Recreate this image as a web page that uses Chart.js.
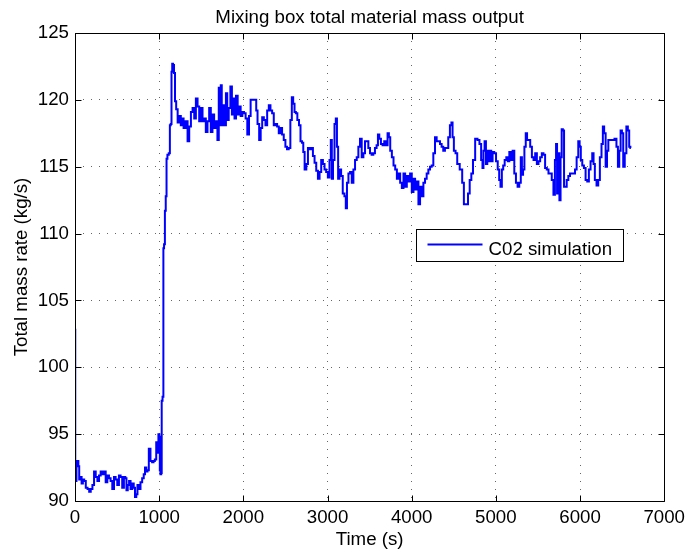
<!DOCTYPE html>
<html><head><meta charset="utf-8">
<script src="https://cdn.jsdelivr.net/npm/chart.js@4/dist/chart.umd.min.js"></script>
<style>html,body{margin:0;padding:0;background:#fff;}canvas{display:block;}</style>
</head><body>
<canvas id="c" width="691" height="555"></canvas>
<script>
const chartTitle = 'Mixing box total material mass output';
const xAxisLabel = 'Time (s)';
const yAxisLabel = 'Total mass rate (kg/s)';
const seriesLabel = 'C02 simulation';
const xTickValues = [0, 1000, 2000, 3000, 4000, 5000, 6000, 7000];
const yTickValues = [90, 95, 100, 105, 110, 115, 120, 125];

const timeS = [
0,6,15,20,35,45,55,70,87,100,118,138,160,177,197,217,236,256,276,295,315,335,355,374,394,413,433,453,473,492,512,532,551,571,591,605,618,635,650,670,690,705,721,735,749,768,788,808,825,839,855,867,887,906,926,940,957,973,985,997,1005,1010,1020,1028,1032,1048,1052,1064,1072,1084,1091,1105,1123,1131,1143,1150,1160,1170,1182,1194,
1210,1229,1249,1265,1280,1300,1328,1347,1367,1387,1407,1426,1446,1466,1485,1505,1525,1544,1564,1584,1604,1623,1643,1663,1682,1702,1714,1726,1738,1749,1769,1785,1801,1816,1836,1856,1872,1887,1903,1923,1942,1958,1978,1998,2017,2037,2057,
2077,2096,2147,2159,2178,2198,2214,2234,2253,2273,2293,2312,2332,2352,2371,2391,2411,2431,2450,2470,2490,2509,2529,2549,2568,2584,2600,2616,2632,2651,2671,2687,2706,2718,2738,2758,2777,2797,2817,2836,2856,2876,2896,2915,2935,2955,2974,2994,3014,3033,3045,3057,3073,3093,3104,3120,3132,3152,3171,
3191,3211,3223,3239,3258,3278,3298,3317,3337,3357,3376,3396,3416,3436,3455,3475,3495,3514,3534,3554,3573,3593,3605,3625,3644,3664,3684,3704,3723,3735,3755,3774,3794,3814,3834,3853,3873,3893,3912,3932,3952,3971,3991,4011,4031,4050,4070,4090,4109,4129,4149,4168,4188,4208,4228,4247,4267,4287,4306,4326,4346,4365,4385,4405,4425,4444,4464,4480,4491,4511,4531,4551,
4590,4610,4630,4661,4677,4701,4716,4740,4768,4795,4815,4835,4847,4858,4874,4890,4906,4921,4937,4953,4969,4992,5012,5032,5047,5063,5079,5095,5114,5134,5150,5170,5189,5209,5229,5248,5268,5288,5304,5315,5331,5347,5363,5378,5398,5418,5438,5457,5477,5497,5516,5536,5556,5575,5595,5615,5635,5654,5674,5694,5709,5721,5733,5749,5761,5776,5788,5804,5816,5832,5851,5871,5891,5910,5930,5950,5969,5989,6001,6017,6036,6056,6076,6095,6115,6135,6155,6166,6186,6206,6226,6245,6265,6277,6296,6312,6328,6344,6363,6395,6423,6442,6458,6474,6490,6505,6521,6541,6560,6576,6592,6604
];

const massRate = [
102.8,91.5,91.5,93.0,93.0,92.6,91.6,91.8,91.3,91.6,91.5,91.0,90.9,90.7,90.9,91.2,92.2,91.8,91.5,91.9,92.2,92.0,92.2,91.4,91.9,91.7,91.5,90.9,91.8,91.6,91.2,91.9,91.8,91.0,91.8,91.7,90.8,91.2,91.5,90.9,91.3,91.0,90.3,90.5,91.2,90.9,91.4,91.7,92.0,92.5,92.2,92.3,93.9,93.0,92.9,93.0,93.1,94.4,93.6,95.0,94.8,92.3,92.0,92.1,97.5,97.8,108.9,109.2,111.7,112.8,115.6,115.9,116.0,118.1,118.2,122.1,122.7,122.6,122.0,119.9,
119.3,118.3,118.8,118.1,118.6,117.9,118.4,116.9,118.0,119.1,119.4,118.6,120.1,119.5,118.4,119.4,118.4,118.6,117.6,118.4,119.4,117.6,118.9,117.9,118.4,117.0,120.9,118.1,121.1,118.1,119.6,118.1,120.5,118.5,119.4,121.0,118.9,120.1,118.6,120.3,118.9,119.5,118.8,119.1,119.0,118.6,117.4,
118.8,120.0,120.0,119.2,118.2,117.0,117.9,118.7,118.5,118.1,119.2,119.6,119.2,119.0,118.1,118.2,118.0,117.5,117.9,117.4,117.0,116.5,116.3,116.4,118.5,120.2,119.7,119.1,119.0,118.5,118.1,116.9,116.8,116.1,114.8,115.2,116.4,116.3,116.4,115.8,115.3,114.7,114.1,114.6,115.5,115.2,114.8,114.6,114.2,115.5,117.0,114.1,115.5,118.2,118.6,116.5,114.1,114.8,114.3,
113.0,112.8,111.9,113.8,114.5,114.6,113.8,114.8,115.5,115.7,116.5,117.1,115.7,116.0,116.9,116.9,116.4,116.0,115.9,116.0,116.4,116.6,117.4,117.1,116.7,116.6,116.9,116.6,117.5,117.2,116.2,115.7,115.1,114.8,114.1,114.5,113.8,113.4,114.5,113.5,114.3,113.9,114.5,113.1,114.1,113.3,113.9,112.2,113.5,112.8,113.8,114.1,114.5,114.8,115.0,115.1,116.0,117.2,116.9,116.9,116.7,116.5,116.2,116.4,116.4,117.2,118.1,118.3,117.2,116.2,116.0,115.2,
114.8,113.8,112.2,112.2,113.0,114.0,114.5,115.5,117.1,117.0,116.7,115.5,114.9,116.2,116.9,115.2,116.2,115.4,116.2,115.4,116.1,116.0,115.4,114.8,114.0,113.5,114.8,115.1,115.5,115.7,115.4,116.1,115.5,116.2,114.5,113.8,113.5,113.8,115.7,114.4,114.8,116.5,117.5,117.0,117.0,116.5,115.7,115.5,116.0,115.2,115.4,115.7,116.0,115.9,114.9,114.8,114.5,114.5,114.0,112.9,115.5,116.7,113.0,116.0,112.5,115.7,117.8,117.7,113.5,113.5,114.0,114.3,114.5,114.5,114.5,114.8,115.7,116.9,116.5,115.5,115.1,114.9,114.0,113.9,114.8,115.4,116.0,115.2,114.0,113.6,114.0,115.7,116.7,118.0,117.5,115.0,116.2,117.0,117.0,117.0,117.1,116.5,115.0,116.2,117.7,117.5,115.0,116.0,118.0,117.7,116.5,116.4
];

const FONT = "'Liberation Sans', Arial, Helvetica, sans-serif";
const FS = 18.7;
const points = timeS.map((t, i) => ({ x: t, y: massRate[i] }));

const decor = {
  id: 'decor',
  afterDraw(chart) {
    const ctx = chart.ctx, a = chart.chartArea;
    const xs = chart.scales.x, ys = chart.scales.y;
    ctx.save();
    ctx.strokeStyle = '#000';
    ctx.lineWidth = 1;
    ctx.setLineDash([]);
    ctx.beginPath();
    const L = Math.round(a.left) + 0.5, R = Math.round(a.right) + 0.5;
    const T = Math.round(a.top) + 0.5, B = Math.round(a.bottom) + 0.5;
    ctx.rect(L, T, R - L, B - T);
    const tl = 6;
    xTickValues.forEach(v => {
      const px = Math.round(xs.getPixelForValue(v)) + 0.5;
      ctx.moveTo(px, B); ctx.lineTo(px, B - tl);
      ctx.moveTo(px, T); ctx.lineTo(px, T + tl);
    });
    yTickValues.forEach(v => {
      const py = Math.round(ys.getPixelForValue(v)) + 0.5;
      ctx.moveTo(L, py); ctx.lineTo(L + tl, py);
      ctx.moveTo(R, py); ctx.lineTo(R - tl, py);
    });
    ctx.stroke();

    // title
    ctx.fillStyle = '#000';
    ctx.font = FS + 'px ' + FONT;
    ctx.textAlign = 'center';
    ctx.textBaseline = 'alphabetic';
    ctx.fillText(chartTitle, (a.left + a.right) / 2, 22.5);

    // legend
    const ds = chart.data.datasets[0];
    const lx = Math.round(a.left) + 341 + 0.5, ly = Math.round(a.top) + 196 + 0.5;
    const lw = 207, lh = 32;
    ctx.fillStyle = '#fff';
    ctx.fillRect(lx, ly, lw, lh);
    ctx.strokeStyle = '#000';
    ctx.lineWidth = 1;
    ctx.strokeRect(lx, ly, lw, lh);
    ctx.strokeStyle = ds.borderColor;
    ctx.lineWidth = ds.borderWidth;
    ctx.beginPath();
    ctx.moveTo(lx + 11, ly + 15); ctx.lineTo(lx + 66, ly + 15);
    ctx.stroke();
    ctx.fillStyle = '#000';
    ctx.textAlign = 'left';
    ctx.fillText(ds.label, lx + 72, ly + 25);
    ctx.restore();
  }
};

new Chart(document.getElementById('c'), {
  type: 'scatter',
  data: {
    datasets: [{
      label: seriesLabel,
      data: points,
      showLine: true,
      stepped: 'middle',
      borderColor: '#0000ff',
      backgroundColor: '#0000ff',
      borderWidth: 2,
      pointRadius: 0,
      fill: false
    }]
  },
  options: {
    responsive: false,
    animation: false,
    devicePixelRatio: 1,
    layout: { padding: { top: 33, right: 24, left: 0, bottom: 0 } },
    plugins: { legend: { display: false }, title: { display: false }, tooltip: { enabled: false } },
    scales: {
      x: {
        type: 'linear', min: 0, max: 7000,
        afterBuildTicks: s => { s.ticks = xTickValues.map(v => ({ value: v })); },
        afterFit: s => { s.height = 54; },
        ticks: { font: { family: FONT, size: FS }, color: '#000', padding: 6, maxRotation: 0, autoSkip: false, callback: v => String(v) },
        grid: { color: 'rgba(0,0,0,0.6)', lineWidth: 1, drawTicks: false },
        border: { display: false, dash: [1, 7] },
        title: { display: true, text: xAxisLabel, font: { family: FONT, size: FS }, color: '#000', padding: { top: 0, bottom: 4 } }
      },
      y: {
        type: 'linear', min: 90, max: 125,
        afterBuildTicks: s => { s.ticks = yTickValues.map(v => ({ value: v })); },
        afterFit: s => { s.width = 75; },
        ticks: { font: { family: FONT, size: FS }, color: '#000', padding: 6, autoSkip: false, callback: v => String(v) },
        grid: { color: 'rgba(0,0,0,0.6)', lineWidth: 1, drawTicks: false },
        border: { display: false, dash: [1, 7] },
        title: { display: true, text: yAxisLabel, font: { family: FONT, size: FS }, color: '#000', padding: { top: 11, bottom: 0 } }
      }
    }
  },
  plugins: [decor]
});
</script>
</body></html>
